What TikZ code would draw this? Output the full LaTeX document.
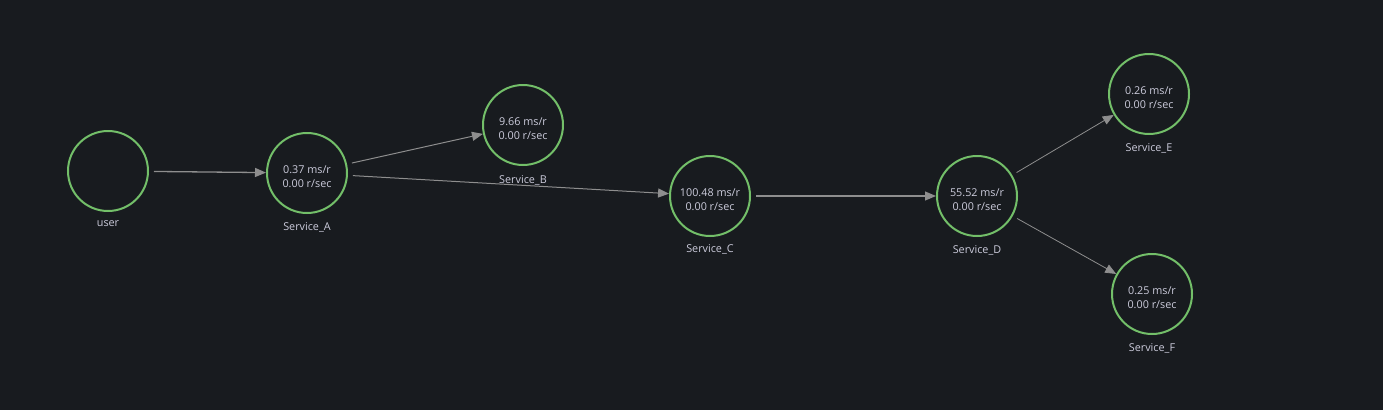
\documentclass[tikz,border=0pt]{standalone}
\usepackage{fontspec}
\setmainfont{Open Sans}
\usetikzlibrary{arrows.meta}
\definecolor{bg}{HTML}{181B1F}
\definecolor{ring}{HTML}{73BF69}
\definecolor{txt}{HTML}{CCCCDC}
\definecolor{edgec}{HTML}{8E8E8E}
\tikzset{
  svc/.style={circle, draw=ring, line width=2pt, minimum size=80pt, inner sep=0pt,
    text=txt, font=\fontsize{10.8pt}{16pt}\selectfont, align=center},
  lbl/.style={text=txt, font=\fontsize{10.8pt}{12pt}\selectfont, inner sep=0pt},
  edge/.style={draw=edgec, line width=1pt, shorten <=5pt,
    -{Triangle[length=11pt,width=9pt]}},
}
\newcommand{\twolines}[2]{\raisebox{-2.5pt}[\dimexpr\height+2.5pt][\dimexpr\depth-2.5pt]{\shortstack{#1\\[3pt]#2}}}
\begin{document}
\begin{tikzpicture}[x=1pt,y=-1pt]
\fill[bg] (0,0) rectangle (1383,410);
\useasboundingbox (0,0) rectangle (1383,410);
\node[svc] (user) at (108,171) {};
\node[svc] (A) at (307,173) {\twolines{0.37 ms/r}{0.00 r/sec}};
\node[svc] (B) at (523,125) {\twolines{9.66 ms/r}{0.00 r/sec}};
\node[svc] (C) at (710,196) {\twolines{100.48 ms/r}{0.00 r/sec}};
\node[svc] (D) at (977,196) {\twolines{55.52 ms/r}{0.00 r/sec}};
\node[svc] (E) at (1149,94) {\twolines{0.26 ms/r}{0.00 r/sec}};
\node[svc] (F) at (1152,294) {\twolines{0.25 ms/r}{0.00 r/sec}};
\node[lbl] (userL) at ([yshift=-53pt]user.center) {user};
\node[lbl] (AL) at ([yshift=-54pt]A.center) {Service\_A};
\node[lbl] (BL) at ([yshift=-55pt]B.center) {Service\_B};
\node[lbl] (CL) at ([yshift=-53pt]C.center) {Service\_C};
\node[lbl] (DL) at ([yshift=-54pt]D.center) {Service\_D};
\node[lbl] (EL) at ([yshift=-54pt]E.center) {Service\_E};
\node[lbl] (FL) at ([yshift=-54pt]F.center) {Service\_F};
\draw[edge, line width=1.3pt] (user) -- (A);
\draw[edge] (A) -- (B);
\draw[edge] (A) -- (C);
\draw[edge, line width=1.1pt] (C) -- (D);
\draw[edge, line width=0.8pt] (D) -- (E);
\draw[edge, line width=0.8pt] (D) -- (F);
\end{tikzpicture}
\end{document}
